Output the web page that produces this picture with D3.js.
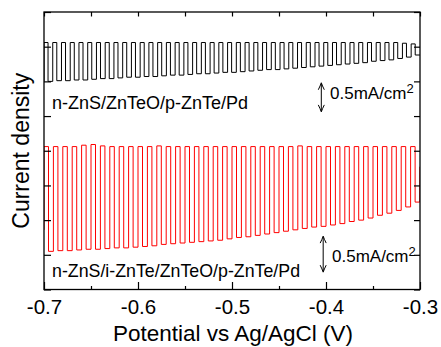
<!DOCTYPE html>
<html>
<head>
<meta charset="utf-8">
<script src="https://cdn.jsdelivr.net/npm/d3@7/dist/d3.min.js"></script>
<style>
  html, body { margin: 0; padding: 0; background: #fff; }
  svg { display: block; font-family: "Liberation Sans", Arial, sans-serif; }
</style>
</head>
<body>
<svg id="chart" width="441" height="347"></svg>
<script>
// ---------------- data ----------------
const xDomain = [-0.7, -0.3];
const yDomain = [0, 4];                         // current density (mA/cm2, offset)
const xMajorTicks = [-0.7, -0.6, -0.5, -0.4, -0.3];
const xMajorLabels = ["-0.7", "-0.6", "-0.5", "-0.4", "-0.3"];
const xMinorTicks = [-0.65, -0.55, -0.45, -0.35];
const yTicks = [0, 0.5, 1, 1.5, 2, 2.5, 3, 3.5, 4];

// n-ZnS/ZnTeO/p-ZnTe/Pd  (black) : 43 chopped cycles
const blackPeriod = 0.0093;
const blackHighDur = 0.0043;
const blackStart = 3.00;
const blackHigh = [3.56,3.56,3.56,3.56,3.56,3.56,3.56,3.56,3.56,3.56,
                   3.56,3.56,3.56,3.56,3.56,3.56,3.56,3.56,3.56,3.56,
                   3.56,3.56,3.56,3.56,3.56,3.56,3.56,3.56,3.56,3.56,
                   3.56,3.56,3.56,3.56,3.56,3.56,3.56,3.56,3.56,3.56,
                   3.56,3.55,3.54];
const blackLow  = [3.00,3.01,3.01,3.02,3.02,3.03,3.04,3.04,3.05,3.06,
                   3.06,3.07,3.07,3.08,3.09,3.09,3.10,3.11,3.11,3.12,
                   3.13,3.13,3.14,3.15,3.16,3.17,3.17,3.18,3.19,3.20,
                   3.21,3.22,3.23,3.24,3.25,3.26,3.27,3.29,3.30,3.31,
                   3.33,3.35,3.38];

// n-ZnS/i-ZnTe/ZnTeO/p-ZnTe/Pd  (red) : 40 chopped cycles
const redPeriod = 0.01;
const redHighDur = 0.0048;
const redStart = 0.86;
const redEnd = 1.77;
const redHigh = [2.06,2.06,2.06,2.06,2.08,2.09,2.07,2.06,2.06,2.06,
                 2.06,2.06,2.07,2.06,2.06,2.06,2.06,2.06,2.06,2.06,
                 2.06,2.06,2.06,2.06,2.06,2.06,2.06,2.07,2.06,2.06,
                 2.06,2.06,2.06,2.06,2.06,2.06,2.06,2.06,2.06,2.06];
const redLow  = [0.55,0.56,0.56,0.57,0.58,0.58,0.59,0.60,0.60,0.61,
                 0.62,0.63,0.65,0.66,0.67,0.68,0.69,0.70,0.71,0.73,
                 0.75,0.76,0.78,0.80,0.82,0.84,0.86,0.88,0.90,0.91,
                 0.93,0.95,0.98,1.00,1.03,1.07,1.10,1.14,1.19,1.26];

// scale bars (0.5 mA/cm2)
const scaleBarBlack = { x: -0.405, y0: 2.56, y1: 2.98 };
const scaleBarRed   = { x: -0.403, y0: 0.25, y1: 0.77 };

// ---------------- layout ----------------
const W = 441, H = 347;
const m = { left: 44, right: 21, top: 12, bottom: 57.5 };
const svg = d3.select("#chart");
const x = d3.scaleLinear().domain(xDomain).range([m.left, W - m.right]);
const y = d3.scaleLinear().domain(yDomain).range([H - m.bottom, m.top]);

function chopPoints(start, high, low, period, highDur) {
  const pts = [[xDomain[0], start]];
  high.forEach((h, i) => {
    const t = xDomain[0] + i * period;
    pts.push([t, h]);
    pts.push([t + highDur, h]);
    pts.push([t + highDur, low[i]]);
    pts.push([Math.min(t + period, xDomain[1]), low[i]]);
  });
  return pts;
}

const line = d3.line().x(d => x(d[0])).y(d => y(d[1]));

const blackPts = chopPoints(blackStart, blackHigh, blackLow, blackPeriod, blackHighDur);
const redPts = chopPoints(redStart, redHigh, redLow, redPeriod, redHighDur);
redPts[redPts.length - 1][0] = xDomain[1] - 0.0003;
redPts.push([xDomain[1] - 0.0001, redEnd]);

svg.append("defs").append("clipPath").attr("id", "clip")
  .append("rect").attr("x", m.left).attr("y", m.top)
  .attr("width", W - m.left - m.right).attr("height", H - m.top - m.bottom);

const plot = svg.append("g").attr("clip-path", "url(#clip)");
plot.append("path").attr("d", line(blackPts))
  .attr("fill", "none").attr("stroke", "#000").attr("stroke-width", 1);
plot.append("path").attr("d", line(redPts))
  .attr("fill", "none").attr("stroke", "#ff0000").attr("stroke-width", 1);

// ---------------- axes ----------------
const axBottom = svg.append("g").attr("transform", `translate(0,${H - m.bottom})`)
  .call(d3.axisBottom(x).tickValues(xMajorTicks).tickSizeInner(-7.5).tickSizeOuter(0)
        .tickFormat((d, i) => xMajorLabels[i]).tickPadding(10));
axBottom.select(".domain").remove();
axBottom.selectAll("text").attr("font-size", 20.5).attr("fill", "#000")
  .attr("font-family", "Liberation Sans, Arial, sans-serif");
axBottom.selectAll("line").attr("stroke", "#000").attr("stroke-width", 1.2);

const axBottomMinor = svg.append("g").attr("transform", `translate(0,${H - m.bottom})`)
  .call(d3.axisBottom(x).tickValues(xMinorTicks).tickSizeInner(-3.5).tickSizeOuter(0).tickFormat(""));
axBottomMinor.select(".domain").remove();
axBottomMinor.selectAll("line").attr("stroke", "#000").attr("stroke-width", 1.2);

const axTop = svg.append("g").attr("transform", `translate(0,${m.top})`)
  .call(d3.axisTop(x).tickValues(xMajorTicks.concat(xMinorTicks)).tickSizeInner(-4.5).tickSizeOuter(0).tickFormat(""));
axTop.select(".domain").remove();
axTop.selectAll("line").attr("stroke", "#000").attr("stroke-width", 1.2);

const axLeft = svg.append("g").attr("transform", `translate(${m.left},0)`)
  .call(d3.axisLeft(y).tickValues(yTicks).tickSizeInner(-7).tickSizeOuter(0).tickFormat(""));
axLeft.select(".domain").remove();
axLeft.selectAll("line").attr("stroke", "#000").attr("stroke-width", 1.2);

const axRight = svg.append("g").attr("transform", `translate(${W - m.right},0)`)
  .call(d3.axisRight(y).tickValues(yTicks).tickSizeInner(-6).tickSizeOuter(0).tickFormat(""));
axRight.select(".domain").remove();
axRight.selectAll("line").attr("stroke", "#000").attr("stroke-width", 1.2);

svg.append("rect").attr("x", m.left).attr("y", m.top)
  .attr("width", W - m.left - m.right).attr("height", H - m.top - m.bottom)
  .attr("fill", "none").attr("stroke", "#000").attr("stroke-width", 1.3);

// axis titles
svg.append("text").attr("x", (m.left + W - m.right) / 2 + 1).attr("y", 341)
  .attr("text-anchor", "middle").attr("font-size", 22.5).attr("fill", "#000")
  .text("Potential vs Ag/AgCl (V)");
svg.append("text").attr("transform", `translate(29,${(m.top + H - m.bottom) / 2}) rotate(-90)`)
  .attr("text-anchor", "middle").attr("font-size", 23).attr("fill", "#000")
  .text("Current density");

// sample labels
svg.append("text").attr("x", 52).attr("y", 109).attr("font-size", 18).attr("fill", "#000")
  .text("n-ZnS/ZnTeO/p-ZnTe/Pd");
svg.append("text").attr("x", 52).attr("y", 277).attr("font-size", 17.8).attr("fill", "#000")
  .text("n-ZnS/i-ZnTe/ZnTeO/p-ZnTe/Pd");

// scale bars
function scaleBar(sb, textX, textY) {
  const g = svg.append("g").attr("stroke", "#000").attr("fill", "none").attr("stroke-width", 1);
  const px = x(sb.x), ya = y(sb.y1), yb = y(sb.y0);
  g.append("line").attr("x1", px).attr("x2", px).attr("y1", ya + 1).attr("y2", yb - 1);
  g.append("path").attr("d", `M${px - 3},${ya + 7} Q${px - 1},${ya + 3} ${px},${ya} Q${px + 1},${ya + 3} ${px + 3},${ya + 7}`);
  g.append("path").attr("d", `M${px - 3},${yb - 7} Q${px - 1},${yb - 3} ${px},${yb} Q${px + 1},${yb - 3} ${px + 3},${yb - 7}`);
  const t = svg.append("text").attr("x", textX).attr("y", textY).attr("font-size", 17).attr("fill", "#000");
  t.append("tspan").text("0.5mA/cm");
  t.append("tspan").attr("font-size", 13).attr("dy", -6).text("2");
}
scaleBar(scaleBarBlack, 330, 99);
scaleBar(scaleBarRed, 332, 262);
</script>
</body>
</html>
